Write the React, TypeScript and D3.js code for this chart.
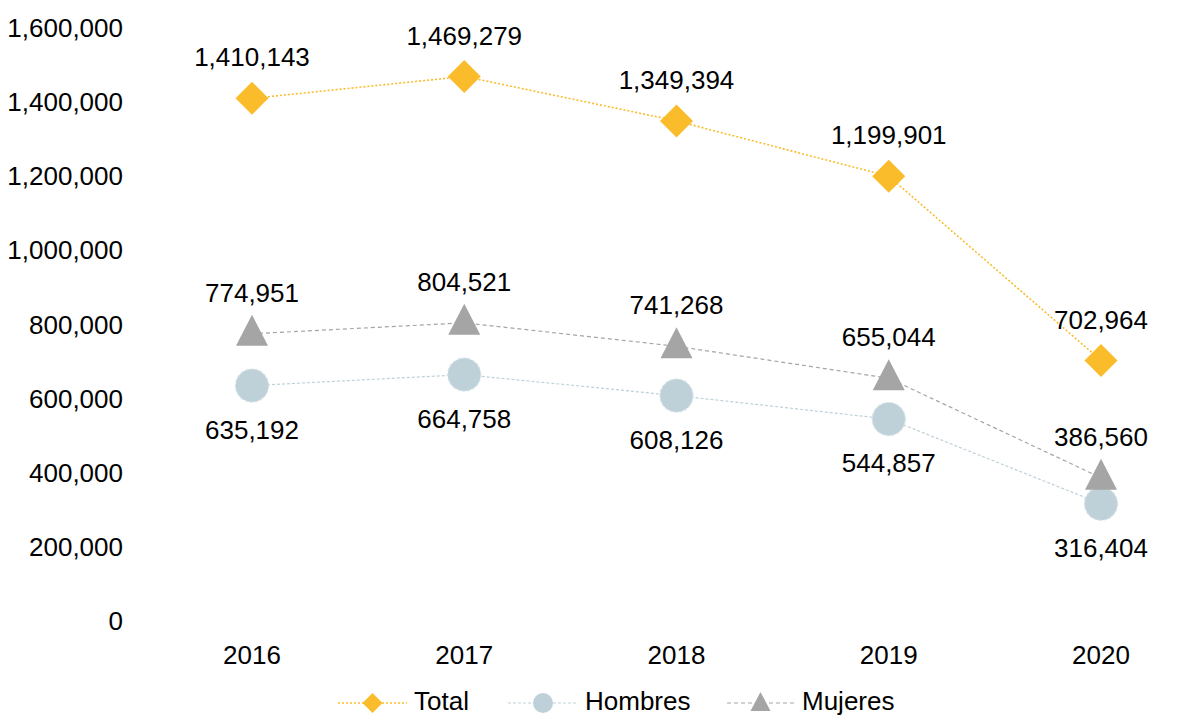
import React, { useEffect, useRef } from 'react'
import * as d3 from 'd3'

const years = ['2016', '2017', '2018', '2019', '2020']
const total = [1410143, 1469279, 1349394, 1199901, 702964]
const hombres = [635192, 664758, 608126, 544857, 316404]
const mujeres = [774951, 804521, 741268, 655044, 386560]
const yTicks = [0, 200000, 400000, 600000, 800000, 1000000, 1200000, 1400000, 1600000]

const series = [
  { name: 'Total', values: total, color: '#FBBC2C', dash: '2,2', width: 1.6, marker: 'diamond', labelPos: 'above' },
  { name: 'Hombres', values: hombres, color: '#BFD1D8', dash: '3,2', width: 1.2, marker: 'circle', labelPos: 'below' },
  { name: 'Mujeres', values: mujeres, color: '#A5A5A5', dash: '4,3', width: 1.2, marker: 'triangle', labelPos: 'above' },
]

const W = 1198
const H = 717
const font = '"Liberation Sans", Arial, sans-serif'

function drawMarker(g: any, type: string, x: number, y: number, color: string) {
  if (type === 'diamond') {
    const s = 16.5
    g.append('path')
      .attr('d', `M${x},${y - s}L${x + s},${y}L${x},${y + s}L${x - s},${y}Z`)
      .attr('fill', color)
  } else if (type === 'circle') {
    g.append('circle').attr('cx', x).attr('cy', y).attr('r', 16.5)
      .attr('fill', color)
      .attr('stroke', '#D3E0E5').attr('stroke-width', 1.2).attr('stroke-dasharray', '3,2')
  } else {
    g.append('path')
      .attr('d', `M${x},${y - 19}L${x + 16},${y + 12}L${x - 16},${y + 12}Z`)
      .attr('fill', color)
  }
}

export default function App() {
  const ref = useRef<SVGSVGElement>(null)

  useEffect(() => {
    const svg = d3.select(ref.current)
    svg.selectAll('*').remove()

    const x = d3.scalePoint().domain(years).range([252, 1101])
    const y = d3.scaleLinear().domain([0, 1600000]).range([621, 28])
    const fmt = d3.format(',')

    // y axis labels
    svg.append('g').selectAll('text').data(yTicks).enter().append('text')
      .attr('x', 123).attr('y', d => y(d)).attr('dy', '0.35em')
      .attr('text-anchor', 'end')
      .style('font-family', font).style('font-size', '26px').attr('fill', '#000')
      .text(d => fmt(d))

    // x axis labels
    svg.append('g').selectAll('text').data(years).enter().append('text')
      .attr('x', d => x(d)!).attr('y', 655).attr('dy', '0.35em')
      .attr('text-anchor', 'middle')
      .style('font-family', font).style('font-size', '26px').attr('fill', '#000')
      .text(d => d)

    const line = d3.line<number>()
      .x((d, i) => x(years[i])!)
      .y(d => y(d))

    series.forEach(s => {
      const g = svg.append('g')
      g.append('path').attr('d', line(s.values))
        .attr('fill', 'none').attr('stroke', s.color)
        .attr('stroke-width', s.width).attr('stroke-dasharray', s.dash)
      s.values.forEach((v, i) => drawMarker(g, s.marker, x(years[i])!, y(v), s.color))
      g.selectAll('text.lbl').data(s.values).enter().append('text')
        .attr('class', 'lbl')
        .attr('x', (d, i) => x(years[i])!)
        .attr('y', d => y(d) + (s.labelPos === 'above' ? -41 : 44))
        .attr('dy', '0.35em').attr('text-anchor', 'middle')
        .style('font-family', font).style('font-size', '26px').attr('fill', '#000')
        .text(d => fmt(d))
    })

    // legend
    const legendItems = [
      { s: series[0], x0: 338, x1: 407, tx: 414 },
      { s: series[1], x0: 508, x1: 578, tx: 585 },
      { s: series[2], x0: 727, x1: 794, tx: 802 },
    ]
    const ly = 701
    legendItems.forEach(it => {
      const g = svg.append('g')
      g.append('line').attr('x1', it.x0).attr('x2', it.x1).attr('y1', ly + 2).attr('y2', ly + 2)
        .attr('stroke', it.s.color).attr('stroke-width', it.s.width).attr('stroke-dasharray', it.s.dash)
      const cx = (it.x0 + it.x1) / 2
      const cy = ly + 2
      if (it.s.marker === 'diamond') {
        g.append('path').attr('d', `M${cx},${cy - 10}L${cx + 10},${cy}L${cx},${cy + 10}L${cx - 10},${cy}Z`).attr('fill', it.s.color)
      } else if (it.s.marker === 'circle') {
        g.append('circle').attr('cx', cx).attr('cy', cy).attr('r', 10).attr('fill', it.s.color)
      } else {
        g.append('path').attr('d', `M${cx},${cy - 11}L${cx + 10},${cy + 8}L${cx - 10},${cy + 8}Z`).attr('fill', it.s.color)
      }
      g.append('text').attr('x', it.tx).attr('y', ly).attr('dy', '0.35em')
        .style('font-family', font).style('font-size', '26px').attr('fill', '#000')
        .text(it.s.name)
    })
  }, [])

  return (
    <svg ref={ref} width={W} height={H}
      style={{ position: 'absolute', left: 0, top: 0, background: '#fff' }} />
  )
}
